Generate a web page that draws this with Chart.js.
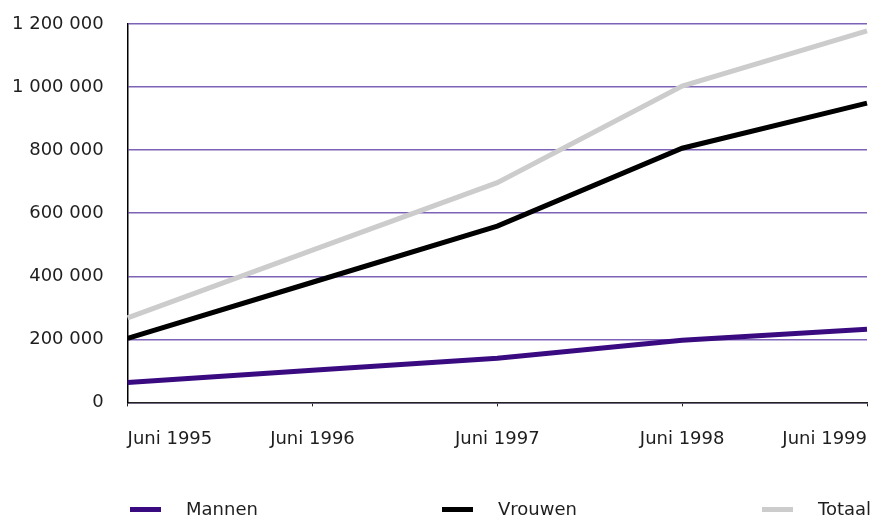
<!DOCTYPE html>
<html>
<head>
<meta charset="utf-8">
<script src="https://cdn.jsdelivr.net/npm/chart.js@4"></script>
<style>
  body { margin: 0; background: #fff; }
  #wrap { position: relative; width: 877px; height: 520px; }
  .leg { position: absolute; top: 497px; font: 18px "DejaVu Sans", sans-serif; color: #1e1e1e; line-height: 24px; white-space: nowrap; }
  .leg i { position: absolute; left: 0; top: 10px; width: 31px; height: 5px; }
  .leg span { position: absolute; left: 56px; top: 0; }
</style>
</head>
<body>
<div id="wrap">
  <canvas id="chart" width="877" height="520"></canvas>
</div>
<script>
// Dados
const jaren = ['Juni 1995', 'Juni 1996', 'Juni 1997', 'Juni 1998', 'Juni 1999'];
const mannen = [63000, 102000, 140000, 197000, 232000];
const vrouwen = [203000, 381000, 559000, 806000, 949000];
const totaal = [268000, 483000, 697000, 1003000, 1178000];

const reeksen = [
  { label: 'Mannen', data: mannen, color: '#3a0b80' },
  { label: 'Vrouwen', data: vrouwen, color: '#000000' },
  { label: 'Totaal', data: totaal, color: '#cccccc' }
];
const legendaX = [130, 442, 762];

function spaties(v) {
  return String(v).replace(/\B(?=(\d{3})+(?!\d))/g, ' ');
}

const font = { family: '"DejaVu Sans", sans-serif', size: 18 };

new Chart(document.getElementById('chart').getContext('2d'), {
  type: 'line',
  data: {
    labels: jaren,
    datasets: reeksen.map(r => ({
      label: r.label,
      data: r.data,
      borderColor: r.color,
      backgroundColor: r.color,
      borderWidth: 5,
      pointRadius: 0,
      tension: 0
    }))
  },
  options: {
    responsive: false,
    animation: false,
    layout: { padding: { left: -12, right: 10, top: 24, bottom: 48 } },
    plugins: { legend: { display: false }, tooltip: { enabled: false } },
    scales: {
      x: {
        offset: false,
        afterFit: s => { s.paddingLeft = 0; s.paddingRight = 0; },
        grid: { display: true, drawOnChartArea: false, tickLength: 4, color: '#222' },
        border: { color: '#222', width: 1.5 },
        ticks: { font, color: '#1e1e1e', padding: 22, maxRotation: 0, autoSkip: false, align: 'inner' }
      },
      y: {
        min: 0,
        max: 1200000,
        afterFit: s => { s.paddingTop = 0; s.paddingBottom = 0; },
        grid: { color: '#7d62b8', lineWidth: 1.5, drawTicks: false },
        border: { color: '#000', width: 1.5 },
        ticks: { font, color: '#1e1e1e', padding: 24, stepSize: 200000, callback: v => spaties(v) }
      }
    }
  }
});

// Legenda (HTML)
const wrap = document.getElementById('wrap');
reeksen.forEach((r, i) => {
  const d = document.createElement('div');
  d.className = 'leg';
  d.style.left = legendaX[i] + 'px';
  d.innerHTML = '<i style="background:' + r.color + '"></i><span>' + r.label + '</span>';
  wrap.appendChild(d);
});
</script>
</body>
</html>
